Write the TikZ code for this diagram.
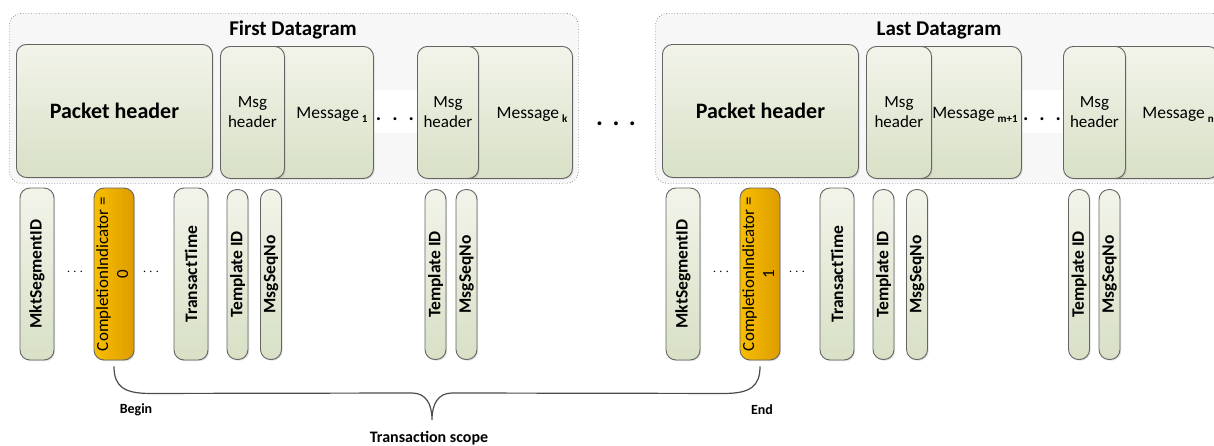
\documentclass[tikz,border=0pt]{standalone}
\usepackage{fontspec}
\setmainfont{Carlito}
\usetikzlibrary{calc,shadows}
\definecolor{boxtop}{RGB}{242,244,234}
\definecolor{boxbot}{RGB}{216,224,198}
\definecolor{ciL}{RGB}{248,190,0}
\definecolor{ciR}{RGB}{222,156,0}
\definecolor{edge}{RGB}{100,100,100}
\newcommand{\fsz}[2]{\fontsize{#1}{#2}\selectfont}
\newcommand{\idx}[1]{\raisebox{-0.45ex}{\fsz{11}{12}\bfseries #1}}

\begin{document}
\begin{tikzpicture}[x=1pt,y=-1pt,
    frame/.style={draw=black!50, dotted, line width=0.7pt, fill=black!3, rounded corners=12pt, anchor=north west, inner sep=0pt},
    strip/.style={fill=white, anchor=north west, inner sep=0pt},
    box/.style={draw=edge, line width=0.9pt, rounded corners=10pt, top color=boxtop, bottom color=boxbot,
      drop shadow={shadow xshift=1.2pt, shadow yshift=-1.2pt, opacity=0.25}, inner sep=0pt, align=center},
    field/.style={box, minimum width=34pt, minimum height=172pt, font=\fsz{17.5}{20}\bfseries},
    slim/.style={field, minimum width=21pt, minimum height=170pt},
    flag/.style={field, font=\fsz{17}{20}, left color=ciL, right color=ciR},
    txt/.style={inner sep=0pt, align=center},
    gap/.style={inner sep=0pt, anchor=base, font=\bfseries},
    brace/.style={draw=black!70, line width=1.2pt}]
  \path[use as bounding box, clip] (0,0) rectangle (1214,445);
  \pgfmathsetmacro{\dx}{646}
  % First datagram
  \node[frame, minimum width=569pt, minimum height=170pt] (dg1) at (9,13) {};
  \node[strip, minimum width=44pt, minimum height=43pt] (s1) at (373,90) {};
  \node[txt, font=\fsz{21}{24}\bfseries] (t1) at (293,30) {First Datagram};
  \node[box, minimum width=196pt, minimum height=133pt, anchor=north west, font=\fsz{22}{26}\bfseries] (ph1) at (16,44) {Packet header};
  \node[box, minimum width=109pt, minimum height=132pt, anchor=north west] (m1) at (264,46) {};
  \node[box, minimum width=64pt, minimum height=132pt, anchor=north west, font=\fsz{17}{20}] (mh1) at (220,46) {Msg\\header};
  \node[txt, font=\fsz{17.5}{20}] (m1t) at (332,115) {Message\,\idx{1}};
  \node[gap, font=\fsz{20}{20}\bfseries] (d1) at (395,120) {.\hspace{11pt}.\hspace{11pt}.};
  \node[box, minimum width=112pt, minimum height=132pt, anchor=north west] (mk) at (460,46) {};
  \node[box, minimum width=61pt, minimum height=132pt, anchor=north west, font=\fsz{17}{20}] (mhk) at (417,46) {Msg\\header};
  \node[txt, font=\fsz{17.5}{20}] (mkt) at (532,115) {Message\,\idx{k}};
  % Datagrams in between
  \node[gap, font=\fsz{26}{26}\bfseries] (dmid) at (616,125) {.\hspace{9.5pt}.\hspace{9.5pt}.};
  % Last datagram
  \node[frame, minimum width=569pt, minimum height=170pt] (dg2) at ({\dx+9},13) {};
  \node[strip, minimum width=44pt, minimum height=43pt] (s2) at ({\dx+375},90) {};
  \node[txt, font=\fsz{21}{24}\bfseries] (t2) at ({\dx+293},30) {Last Datagram};
  \node[box, minimum width=196pt, minimum height=133pt, anchor=north west, font=\fsz{22}{26}\bfseries] (ph2) at ({\dx+16},44) {Packet header};
  \node[box, minimum width=111pt, minimum height=132pt, anchor=north west] (mm) at ({\dx+264},46) {};
  \node[box, minimum width=65pt, minimum height=132pt, anchor=north west, font=\fsz{17}{20}] (mhm) at ({\dx+220},46) {Msg\\header};
  \node[txt, font=\fsz{17.5}{20}] (mmt) at ({\dx+329},115) {Message\,\idx{m+1}};
  \node[gap, font=\fsz{20}{20}\bfseries] (d2) at ({\dx+396},120) {.\hspace{11pt}.\hspace{11pt}.};
  \node[box, minimum width=112pt, minimum height=132pt, anchor=north west] (mn) at ({\dx+460},46) {};
  \node[box, minimum width=62pt, minimum height=132pt, anchor=north west, font=\fsz{17}{20}] (mhn) at ({\dx+417},46) {Msg\\header};
  \node[txt, font=\fsz{17.5}{20}] (mnt) at ({\dx+532},115) {Message\,\idx{n}};
  % Fields of the first datagram
  \node[field] (seg1) at (37,274) {\rotatebox{90}{MktSegmentID}};
  \node[txt, font=\fsz{14}{14}] (e1a) at (75,272) {$\cdots$};
  \node[flag] (ci0) at (114,274) {\rotatebox{90}{\begin{tabular}{@{}c@{}}CompletionIndicator =\\0\end{tabular}}};
  \node[txt, font=\fsz{14}{14}] (e1b) at (151,272) {$\cdots$};
  \node[field] (tt1) at (191,274) {\rotatebox{90}{TransactTime}};
  \node[slim] (tid1) at (237.5,274.5) {\rotatebox{90}{Template ID}};
  \node[slim] (sq1) at (271,274.5) {\rotatebox{90}{MsgSeqNo}};
  \node[slim] (tid1k) at (435.5,274.5) {\rotatebox{90}{Template ID}};
  \node[slim] (sq1k) at (466.5,274.5) {\rotatebox{90}{MsgSeqNo}};
  % Fields of the last datagram
  \node[field] (seg2) at ({\dx+37},274) {\rotatebox{90}{MktSegmentID}};
  \node[txt, font=\fsz{14}{14}] (e2a) at ({\dx+75},272) {$\cdots$};
  \node[flag] (ci1) at ({\dx+114},274) {\rotatebox{90}{\begin{tabular}{@{}c@{}}CompletionIndicator =\\1\end{tabular}}};
  \node[txt, font=\fsz{14}{14}] (e2b) at ({\dx+151},272) {$\cdots$};
  \node[field] (tt2) at ({\dx+191},274) {\rotatebox{90}{TransactTime}};
  \node[slim] (tid2) at ({\dx+237.5},274.5) {\rotatebox{90}{Template ID}};
  \node[slim] (sq2) at ({\dx+271},274.5) {\rotatebox{90}{MsgSeqNo}};
  \node[slim] (tid2n) at (1079,274.5) {\rotatebox{90}{Template ID}};
  \node[slim] (sq2n) at (1109.5,274.5) {\rotatebox{90}{MsgSeqNo}};
  % Transaction scope brace
  \coordinate (tip) at (432,420);
  \draw[brace] ($(ci0.south)+(0,6)$) .. controls ($(ci0.south)+(0,26)$) and ($(ci0.south)+(10,33)$) .. ($(ci0.south)+(36,33)$)
    -- ($(tip)+(-20,-27)$) .. controls ($(tip)+(-6,-27)$) and ($(tip)+(0,-16)$) .. (tip)
    .. controls ($(tip)+(0,-16)$) and ($(tip)+(6,-27)$) .. ($(tip)+(20,-27)$)
    -- ($(ci1.south)+(-36,33)$) .. controls ($(ci1.south)+(-10,33)$) and ($(ci1.south)+(0,26)$) .. ($(ci1.south)+(0,6)$);
  \node[txt, font=\fsz{14}{14}\bfseries] (beg) at (136,410) {Begin};
  \node[txt, font=\fsz{14}{14}\bfseries] (fin) at (762,410) {End};
  \node[txt, font=\fsz{16}{16}\bfseries] (scope) at (429,438) {Transaction scope};
\end{tikzpicture}
\end{document}
